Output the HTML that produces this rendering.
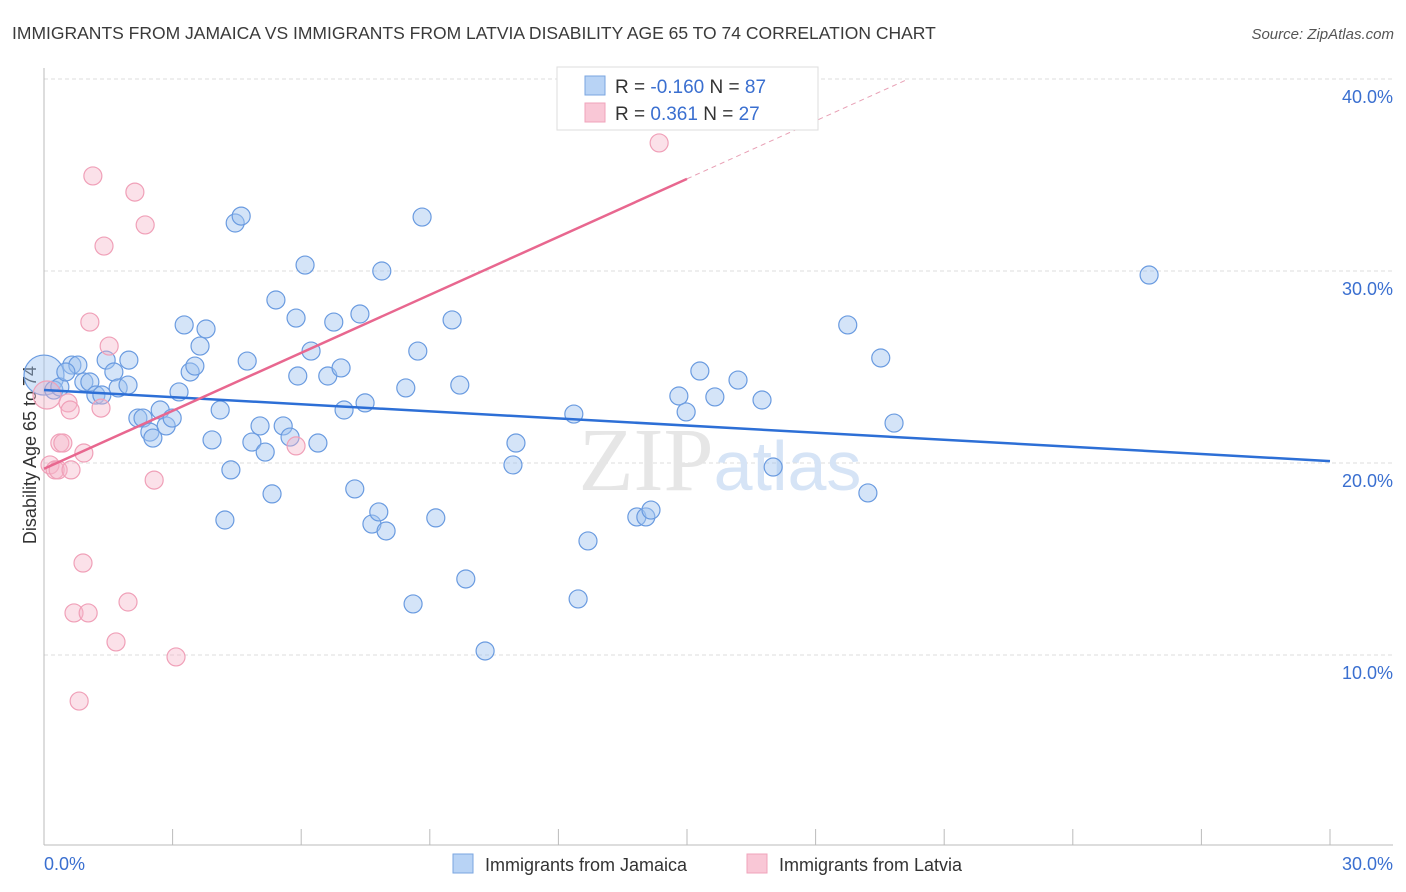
<!DOCTYPE html>
<html><head><meta charset="utf-8"><style>
body{margin:0;background:#fff;font-family:"Liberation Sans",sans-serif;}
svg{display:block}
</style></head><body>
<svg id="c" width="1406" height="892" xmlns="http://www.w3.org/2000/svg">
<text x="12" y="39" font-size="17.5" fill="#3a3a3a">IMMIGRANTS FROM JAMAICA VS IMMIGRANTS FROM LATVIA DISABILITY AGE 65 TO 74 CORRELATION CHART</text>
<text x="1394" y="39" font-size="15" fill="#555" font-style="italic" text-anchor="end">Source: ZipAtlas.com</text>
<text x="36" y="455" font-size="18" fill="#333" text-anchor="middle" transform="rotate(-90 36 455)">Disability Age 65 to 74</text>
<g id="grid"></g>
<text x="720" y="490" font-size="90" fill="#e6e6e6" text-anchor="middle" font-family="Liberation Serif,serif">ZIP<tspan fill="#d6e4f6" font-family="Liberation Sans,sans-serif" font-size="70">atlas</tspan></text>
<line x1="44" y1="68" x2="44" y2="845" stroke="#bbb"/>
<line x1="44" y1="845" x2="1393" y2="845" stroke="#bbb"/>
<g id="ticks"></g>
<g id="pts"></g>
<g id="lines"></g>
<g>
<rect x="557" y="67" width="261" height="63" fill="#fff" stroke="#ddd"/>
<rect x="585" y="76" width="20" height="19" fill="#b8d3f5" stroke="#7aa6e0"/>
<rect x="585" y="103" width="20" height="19" fill="#f9c7d6" stroke="#f0a3bb"/>
<text x="615" y="93" font-size="19" fill="#333">R = <tspan fill="#3a6fd0">-0.160</tspan>   N = <tspan fill="#3a6fd0">87</tspan></text>
<text x="615" y="120" font-size="19" fill="#333">R = <tspan fill="#3a6fd0"> 0.361</tspan>   N = <tspan fill="#3a6fd0">27</tspan></text>
</g>
<text x="44" y="870" font-size="18" fill="#3a6fd0">0.0%</text>
<text x="1393" y="870" font-size="18" fill="#3a6fd0" text-anchor="end">30.0%</text>
<g><rect x="453" y="854" width="20" height="19" fill="#b8d3f5" stroke="#7aa6e0"/><text x="485" y="871" font-size="18" fill="#333">Immigrants from Jamaica</text></g>
<g><rect x="747" y="854" width="20" height="19" fill="#f9c7d6" stroke="#f0a3bb"/><text x="779" y="871" font-size="18" fill="#333">Immigrants from Latvia</text></g>
</svg>
<script>
const yTicks=[10,20,30,40];
const yTickLabels=["10.0%","20.0%","30.0%","40.0%"];
const xTicks=[0,3,6,9,12,15,18,21,24,27,30];
const blueX=[0.00,0.23,0.37,0.65,0.79,0.51,0.93,1.07,1.21,1.35,1.45,1.63,1.73,1.96,1.98,2.19,2.31,2.47,2.54,2.71,2.85,2.99,3.15,3.27,3.41,3.52,3.64,3.78,4.11,3.92,4.22,4.36,4.46,4.60,4.74,4.85,5.04,5.16,5.32,5.41,5.58,5.74,5.88,5.92,6.09,6.23,6.39,6.62,6.76,6.93,7.00,7.25,7.37,7.49,7.65,7.81,7.88,7.98,8.44,8.61,8.72,8.82,9.14,9.52,9.70,9.84,10.29,10.94,11.01,12.36,12.46,12.69,13.83,14.04,14.16,14.81,14.98,15.30,15.65,16.19,16.75,17.01,18.75,19.22,19.52,19.83,25.78];
const blueY=[24.58,23.80,23.96,25.10,25.10,24.74,24.22,24.22,23.54,23.54,25.36,24.74,23.91,24.06,25.36,22.34,22.34,21.61,21.30,22.76,21.93,22.34,23.70,27.19,24.74,25.05,26.09,26.98,22.76,21.20,17.03,19.64,32.50,32.86,25.31,21.09,21.93,20.57,18.39,28.49,21.93,21.35,27.55,24.53,30.31,25.83,21.04,24.53,27.34,24.95,22.76,18.65,27.76,23.13,16.82,17.45,30.00,16.46,23.91,12.66,25.83,32.81,17.14,27.45,24.06,13.96,10.21,19.90,21.04,22.55,12.92,15.94,17.19,17.19,17.55,23.49,22.66,24.79,23.44,24.32,23.28,19.79,27.19,18.44,25.47,22.08,29.79];
const pinkX=[0.07,0.14,0.26,0.33,0.37,0.44,0.56,0.61,0.70,0.82,0.91,0.93,1.03,1.07,1.14,1.33,1.40,1.52,1.68,1.96,2.12,2.36,2.57,3.08,5.88,14.35,0.63];
const pinkY=[23.54,19.90,19.64,19.64,21.04,21.04,23.13,22.76,12.19,7.60,14.79,20.52,12.19,27.34,34.95,22.86,31.30,26.09,10.68,12.76,34.11,32.40,19.11,9.90,20.89,36.67,19.64];
const blueTrend=[23.8,20.1];
const pinkTrend=[19.7,34.8];
const NS="http://www.w3.org/2000/svg";
const X=v=>44+v*(1286/30);
const Y=v=>847-v*19.2;
function mk(t,a,p){const e=document.createElementNS(NS,t);for(const k in a)e.setAttribute(k,a[k]);p.appendChild(e);return e;}
const grid=document.getElementById('grid');
yTicks.forEach((t,i)=>{
 const l=mk('line',{x1:44,x2:1393,y1:Y(t),y2:Y(t),stroke:'#ddd','stroke-dasharray':'4,3'},grid);
 
 
 const tx=mk('text',{x:1393,y:Y(t)+24,'font-size':18,fill:'#3a6fd0','text-anchor':'end'},grid);
 tx.textContent=yTickLabels[i];
 
 
});
const tk=document.getElementById('ticks');
xTicks.forEach(t=>{
 const l=mk('line',{x1:X(t),x2:X(t),y1:829,y2:845,stroke:'#bbb'},tk);
 
 
});
const pts=document.getElementById('pts');
blueX.forEach((x,i)=>{
 const c=mk('circle',{cx:X(x),cy:Y(blueY[i]),r:i==0?20:9,fill:'rgba(160,195,240,0.45)',stroke:'#6a9be0','stroke-width':1.2},pts);
 
 
});
pinkX.forEach((x,i)=>{
 const c=mk('circle',{cx:X(x),cy:Y(pinkY[i]),r:i==0?14:9,fill:'rgba(245,180,200,0.4)',stroke:'#f0a0b8','stroke-width':1.2},pts);
 
 
});
const ln=document.getElementById('lines');
const b=mk('line',{x1:X(0),y1:Y(blueTrend[0]),x2:X(30),y2:Y(blueTrend[1]),stroke:'#2d6fd6','stroke-width':2.5},ln);


const slope=(pinkTrend[1]-pinkTrend[0])/15;
const p=mk('line',{x1:X(0),y1:Y(pinkTrend[0]),x2:X(15),y2:Y(pinkTrend[1]),stroke:'#e8678f','stroke-width':2.5},ln);


const xe=(40-pinkTrend[0])/slope;
const pd=mk('line',{x1:X(15),y1:Y(pinkTrend[1]),x2:X(xe),y2:Y(40),stroke:'#e8a0b5','stroke-width':1,'stroke-dasharray':'5,4'},ln);


</script>
</body></html>
